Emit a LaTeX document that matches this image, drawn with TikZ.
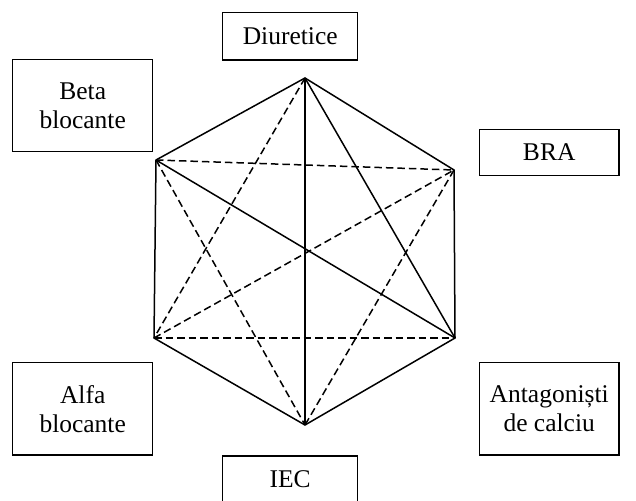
\documentclass[tikz,border=0pt]{standalone}
\usepackage{fontspec}
\setmainfont{Liberation Serif}
\begin{document}
\begin{tikzpicture}[x=1pt,y=-1pt,
  box/.style={draw=black, line width=1.4pt, fill=white, align=center, inner sep=0pt,
    font=\fontsize{25.5}{29}\selectfont},
  edge/.style={line width=1.5pt},
  dedge/.style={line width=1.5pt, dash pattern=on 7.5pt off 4pt}]
\useasboundingbox (0,0) rectangle (636,500);
% hexagon vertices
\coordinate (T) at (305,78);
\coordinate (UR) at (454,170);
\coordinate (LR) at (455,338);
\coordinate (B) at (305,425);
\coordinate (LL) at (154,338);
\coordinate (UL) at (156,160);
% dashed diagonals
\draw[dedge] (UL) -- (UR);
\draw[dedge] (UL) -- (B);
\draw[dedge] (T) -- (LL);
\draw[dedge] (LL) -- (UR);
\draw[dedge] (LL) -- (LR);
\draw[dedge] (UR) -- (B);
% solid edges
\draw[edge] (T) -- (UR) -- (LR) -- (B) -- (LL) -- (UL) -- cycle;
\draw[edge] (T) -- (B);
\draw[edge] (T) -- (LR);
\draw[edge] (UL) -- (LR);
% boxes
\node[box, minimum width=135pt, minimum height=47.3pt] (diu) at (290.2,36.3) {Diuretice};
\node[box, minimum width=140pt, minimum height=92.4pt] (beta) at (82.7,105.5) {Beta\\blocante};
\node[box, minimum width=139.7pt, minimum height=46pt] (bra) at (549.2,152.5) {BRA};
\node[box, minimum width=140pt, minimum height=92.4pt] (alfa) at (82.7,408.9) {Alfa\\blocante};
\node[box, minimum width=139.7pt, minimum height=92.4pt] (ant) at (549.2,408.9) {Antagoniști\\de calciu};
\node[box, minimum width=135pt, minimum height=47.3pt] (iec) at (290.2,479.6) {IEC};
\end{tikzpicture}
\end{document}
